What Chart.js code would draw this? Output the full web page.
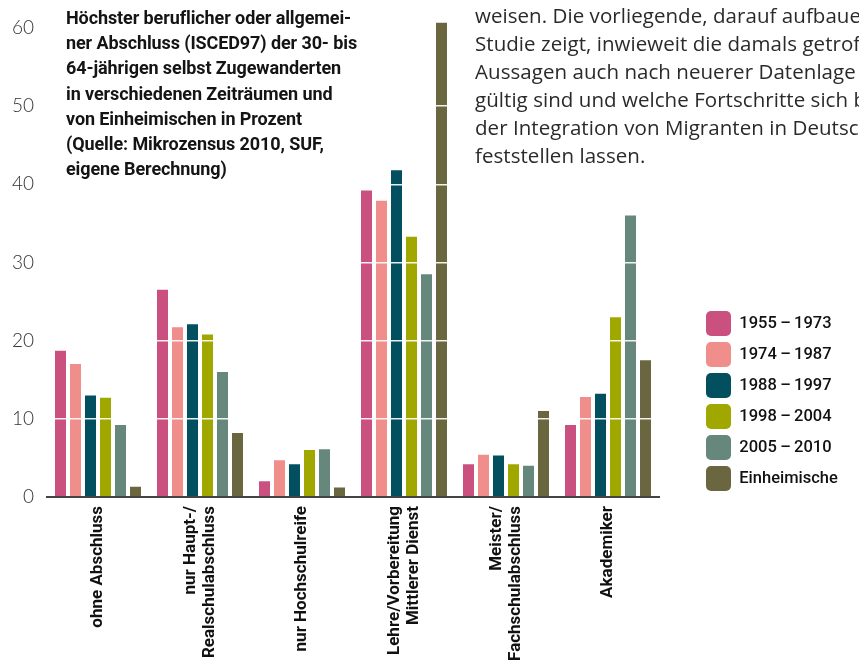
<!DOCTYPE html>
<html lang="de">
<head>
<meta charset="utf-8">
<script src="https://cdn.jsdelivr.net/npm/chart.js@4"></script>
<style>
  html, body { margin: 0; padding: 0; background: #fff; overflow: hidden; width: 859px; height: 661px; }
  #wrap { position: relative; width: 859px; height: 661px; }
  canvas { position: absolute; left: 0; top: 0; }
  #title { position: absolute; left: 66px; top: 5px; font-family: Roboto, sans-serif; font-weight: 700; font-size: 18px; line-height: 25.2px; color: #141414; letter-spacing: -0.1px; white-space: nowrap; }
  #para { position: absolute; left: 475px; top: 1px; font-family: "Open Sans", sans-serif; font-weight: 400; font-size: 20.5px; line-height: 28px; color: #2a2a2a; letter-spacing: 0.05px; white-space: nowrap; width: 384px; overflow: hidden; }
</style>
</head>
<body>
<div id="wrap">
  <canvas id="c" width="859" height="661"></canvas>
  <div id="title">Höchster beruflicher oder allgemei-<br>ner Abschluss (ISCED97) der 30- bis<br>64-jährigen selbst Zugewanderten<br>in verschiedenen Zeiträumen und<br>von Einheimischen in Prozent<br>(Quelle: Mikrozensus 2010, SUF,<br>eigene Berechnung)</div>
  <div id="para">weisen. Die vorliegende, darauf aufbauende<br>Studie zeigt, inwieweit die damals getroffenen<br>Aussagen auch nach neuerer Datenlage noch<br>gültig sind und welche Fortschritte sich bei<br>der Integration von Migranten in Deutschland<br>feststellen lassen.</div>
</div>
<script>
const categories = [
  'ohne Abschluss',
  ['nur Haupt-/', 'Realschulabschluss'],
  'nur Hochschulreife',
  ['Lehre/Vorbereitung', 'Mittlerer Dienst'],
  ['Meister/', 'Fachschulabschluss'],
  'Akademiker'
];
const seriesNames = ['1955\u2009–\u20091973', '1974\u2009–\u20091987', '1988\u2009–\u20091997', '1998\u2009–\u20092004', '2005\u2009–\u20092010', 'Einheimische'];
const s1955_1973 = [18.7, 26.5, 2.0, 39.2, 4.2, 9.2];
const s1974_1987 = [17.0, 21.7, 4.7, 37.9, 5.4, 12.8];
const s1988_1997 = [13.0, 22.1, 4.2, 41.8, 5.3, 13.2];
const s1998_2004 = [12.7, 20.8, 6.0, 33.3, 4.2, 23.0];
const s2005_2010 = [9.2, 16.0, 6.1, 28.5, 4.0, 36.0];
const einheimische = [1.3, 8.2, 1.2, 60.7, 11.0, 17.5];
const yTickValues = [0, 10, 20, 30, 40, 50, 60];

const seriesValues = [s1955_1973, s1974_1987, s1988_1997, s1998_2004, s2005_2010, einheimische];
const colors = ['#C9507F', '#EF8E8A', '#02505F', '#A0A800', '#66877C', '#6A6740'];

const datasets = seriesNames.map((name, i) => ({
  label: name,
  data: seriesValues[i],
  backgroundColor: colors[i],
  borderWidth: 0,
  categoryPercentage: 90 / 102,
  barPercentage: 11 / 15
}));

const labelFont = { family: 'Roboto', weight: '700', size: 17, lineHeight: 1.1 };
const labelLineHeight = 17 * 1.1;

new Chart(document.getElementById('c'), {
  type: 'bar',
  data: { labels: categories, datasets },
  options: {
    responsive: false,
    animation: false,
    layout: { padding: { top: 11, right: 19, left: 0, bottom: 0 } },
    plugins: {
      tooltip: { enabled: false },
      legend: {
        position: 'right',
        align: 'end',
        fullSize: false,
        labels: {
          boxWidth: 25,
          boxHeight: 25,
          padding: 6,
          useBorderRadius: true,
          borderRadius: 5,
          color: '#111',
          font: { family: 'Roboto', weight: '500', size: 16.5 }
        }
      }
    },
    scales: {
      x: {
        z: 2,
        grid: { display: false, drawTicks: false },
        border: { display: true, color: '#444', width: 2, z: 2 },
        ticks: {
          autoSkip: false,
          maxRotation: 90,
          minRotation: 90,
          padding: 9,
          labelOffset: -labelLineHeight / 2,
          showLabelBackdrop: (ctx) => !Array.isArray(categories[ctx.index]),
          backdropColor: 'rgba(0,0,0,0)',
          backdropPadding: 0,
          color: '#111',
          font: labelFont
        },
        afterFit: (axis) => { axis.height = 164; }
      },
      y: {
        z: 1,
        min: 0,
        max: 60.7,
        afterBuildTicks: (axis) => { axis.ticks = yTickValues.map(v => ({ value: v })); },
        grid: {
          z: 1,
          drawTicks: false,
          lineWidth: 1.5,
          color: (ctx) => (ctx.tick && (ctx.tick.value === 0 || ctx.tick.value === 60)) ? 'rgba(0,0,0,0)' : 'rgba(255,255,255,0.9)'
        },
        border: { display: false },
        ticks: {
          padding: 13,
          color: '#333',
          font: { family: 'Lato', weight: '300', size: 19, lineHeight: 1 }
        },
        afterFit: (axis) => { axis.width = 47; }
      },
      y2: {
        position: 'right',
        display: true,
        grid: { display: false, drawTicks: false },
        border: { display: false },
        ticks: { display: false },
        afterFit: (axis) => { axis.width = 41; }
      }
    }
  }
});
</script>
</body>
</html>
